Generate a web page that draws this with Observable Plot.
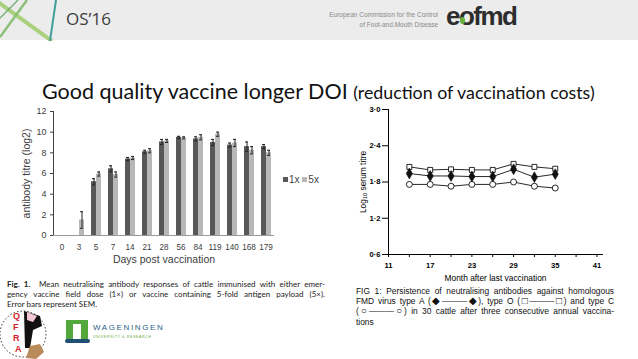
<!DOCTYPE html>
<html>
<head>
<meta charset="utf-8">
<script src="https://cdn.jsdelivr.net/npm/d3@7"></script>
<script src="https://cdn.jsdelivr.net/npm/@observablehq/plot@0.6"></script>
<style>
  html, body { margin: 0; padding: 0; background: #fff; }
  #page { position: relative; width: 638px; height: 359px; overflow: hidden; background: #fff; font-family: "Liberation Sans", Arial, sans-serif; }
  .abs { position: absolute; }
  #header { left: 0; top: 0; width: 638px; height: 40px; background: #ececec; }
  #title { left: 42px; top: 78px; font-family: Lato, "Open Sans", sans-serif; font-size: 21.5px; color: #111; white-space: nowrap; }
  #title span { font-size: 17.8px; }
  #leftcap { left: 7px; top: 279px; width: 318px; font-family: Lato, "Open Sans", sans-serif; font-size: 8px; color: #222; line-height: 10px; }
  #leftcap div, #rightcap div { text-align: justify; text-align-last: justify; white-space: nowrap; }
  #leftcap div.last, #rightcap div.last { text-align-last: left; }
  #rightcap { left: 356px; top: 286px; width: 258px; font-family: "Liberation Sans", Arial, sans-serif; font-size: 8.4px; color: #111; line-height: 10.2px; }
  #rightcap .s { font-size: 10px; line-height: 8px; }
  #legend { left: 283px; top: 174px; font-size: 10px; color: #444; white-space: nowrap; }
  #legend i { display: inline-block; width: 5px; height: 5px; margin-right: 1px; vertical-align: 1px; }
</style>
</head>
<body>
<div id="page">
  <div id="header" class="abs"></div>
  <svg class="abs" style="left:0;top:0" width="70" height="41">
    <line x1="-2" y1="2" x2="52" y2="41" stroke="#a9d07a" stroke-width="4"/>
    <line x1="0" y1="37" x2="27" y2="0" stroke="#8cc07a" stroke-width="2.5"/>
    <line x1="56" y1="0" x2="50" y2="41" stroke="#3f9f9a" stroke-width="2"/>
    <line x1="18" y1="0" x2="0" y2="18" stroke="#6aa86a" stroke-width="1.2"/>
  </svg>
  <div class="abs" style="left:66px;top:7px;font-family:'Open Sans',sans-serif;font-size:17px;color:#3d3d3d;">OS’16</div>
  <div class="abs" style="left:300px;top:10px;width:138px;text-align:right;font-size:6.5px;line-height:10px;color:#8a8a8a;white-space:nowrap;">European Commission for the Control<br>of Foot-and.Mouth Disease</div>
  <div class="abs" style="left:446px;top:1px;font-family:'Liberation Sans',Arial,sans-serif;font-weight:bold;font-size:26px;letter-spacing:-1.5px;color:#2d2d2d;">eofmd</div>
  <div class="abs" style="left:460px;top:17px;width:5px;height:7px;border-radius:50%;background:#6cb33f;"></div>

  <div id="title" class="abs">Good quality vaccine longer DOI <span>(reduction of vaccination costs)</span></div>

  <div id="chart1" class="abs" style="left:0;top:100px;"></div>
  <div id="legend" class="abs"><i style="background:#585858"></i>1x <i style="background:#b8b8b8"></i>5x</div>
  <div id="chart2" class="abs" style="left:320px;top:100px;"></div>

  <div id="leftcap" class="abs">
    <div><b>Fig. 1.</b>&nbsp; Mean neutralising antibody responses of cattle immunised with either emer-</div>
    <div>gency vaccine field dose (1×) or vaccine containing 5-fold antigen payload (5×).</div>
    <div class="last">Error bars represent SEM.</div>
  </div>
  <div id="rightcap" class="abs">
    <div>FIG 1: Persistence of neutralising antibodies against homologous</div>
    <div>FMD virus type A (<span class="s">◆</span>———<span class="s">◆</span>), type O (<span class="s">□</span>———<span class="s">□</span>) and type C</div>
    <div>(<span class="s">○</span>———<span class="s">○</span>) in 30 cattle after three consecutive annual vaccina-</div>
    <div class="last">tions</div>
  </div>

  <!-- bottom logos -->
  <svg class="abs" style="left:0;top:308px" width="60" height="51">
    <circle cx="23" cy="26" r="23" fill="none" stroke="#333" stroke-width="1" stroke-dasharray="1.5 2"/>
    <path d="M24 3 L40 8 L42 18 L33 22 L30 40 L25 40 Z" fill="#111"/>
    <path d="M27 4 L37 8 L33 14 L27 12 Z" fill="#f2c6d6"/>
    <path d="M26 50 L30 38 L40 36 L44 44 L36 51 Z" fill="#b98a5a"/>
    <text x="13" y="11" fill="#d2232a" font-size="9" font-weight="bold" font-family="Liberation Sans">Q</text>
    <text x="13" y="22" fill="#d2232a" font-size="9" font-weight="bold" font-family="Liberation Sans">F</text>
    <text x="13" y="33" fill="#d2232a" font-size="9" font-weight="bold" font-family="Liberation Sans">R</text>
    <text x="15" y="44" fill="#d2232a" font-size="9" font-weight="bold" font-family="Liberation Sans">A</text>
  </svg>
  <svg class="abs" style="left:63px;top:318px" width="100" height="30">
    <rect x="3" y="2" width="22" height="20" fill="#52a83a"/>
    <rect x="10" y="6" width="8" height="16" fill="#fff"/>
    <rect x="2" y="21" width="25" height="4" rx="2" fill="#1f4f72"/>
    <text x="30" y="12" fill="#1f5f86" font-size="8" letter-spacing="1.6" font-family="Liberation Sans">WAGENINGEN</text>
    <text x="30" y="20" fill="#6aaa3a" font-size="3.6" letter-spacing="0.6" font-family="Liberation Sans">UNIVERSITY &amp; RESEARCH</text>
  </svg>
</div>
<script>
// ---------- Left chart data ----------
const days = ["0", "3", "5", "7", "14", "21", "28", "56", "84", "119", "140", "168", "179"];
const doses = ["1x", "5x"];
const titre1x = [0, 0, 5.2, 6.45, 7.4, 8.1, 9.05, 9.5, 9.35, 9.0, 8.75, 8.6, 8.6];
const titre5x = [0, 1.5, 5.95, 5.9, 7.5, 8.2, 9.15, 9.45, 9.5, 9.8, 8.95, 8.25, 8.0];
const sem1x = [0, 0, 0.3, 0.3, 0.15, 0.15, 0.25, 0.1, 0.2, 0.3, 0.2, 0.45, 0.2];
const sem5x = [0, 0.8, 0.2, 0.25, 0.15, 0.2, 0.15, 0.1, 0.25, 0.2, 0.35, 0.35, 0.25];
const yTicksLeft = [0, 2, 4, 6, 8, 10, 12];

// ---------- Right chart data ----------
const months = [14, 17, 20, 23, 26, 29, 32, 35];
const typeA = [1.94, 1.90, 1.90, 1.89, 1.89, 2.01, 1.88, 1.93];
const typeO = [2.05, 2.00, 2.01, 2.00, 2.00, 2.10, 2.05, 2.02];
const typeC = [1.76, 1.76, 1.73, 1.76, 1.76, 1.80, 1.73, 1.70];
const monthTicks = [11, 14, 17, 20, 23, 26, 29, 32, 35, 38, 41];
const monthLabels = [11, 17, 23, 29, 35, 41];
const serumTicks = [0.6, 1.2, 1.8, 2.4, 3.0];

const rows = days.flatMap((d, i) => [
  {day: d, dose: "1x", v: titre1x[i], e: sem1x[i]},
  {day: d, dose: "5x", v: titre5x[i], e: sem5x[i]}
]);
const errRows = rows.filter(r => r.e > 0);

function sizeTitles(svg, px, weight) {
  svg.querySelectorAll("g[aria-label$='axis label']").forEach(g => {
    g.style.fontSize = px;
    if (weight) g.style.fontWeight = weight;
    g.querySelectorAll("text").forEach(t => { t.style.fontSize = px; if (weight) t.style.fontWeight = weight; });
  });
}

const chart1 = Plot.plot({
  width: 320, height: 170,
  marginLeft: 49, marginRight: 43, marginTop: 11, marginBottom: 35,
  style: {fontFamily: "'Liberation Sans', Arial, sans-serif", fontSize: "8.2px", color: "#404040", background: "transparent", overflow: "visible"},
  fx: {domain: days, padding: 0, label: "Days post vaccination", labelArrow: "none", labelAnchor: "center", labelOffset: 27, tickSize: 0, tickPadding: 9},
  x: {domain: doses, paddingInner: 0, paddingOuter: 0.62, axis: null},
  y: {domain: [0, 12], ticks: yTicksLeft, tickSize: 3, tickPadding: 4, line: true, label: "antibody titre (log2)", labelArrow: "none", labelAnchor: "center", labelOffset: 31},
  color: {domain: doses, range: ["#585858", "#b8b8b8"]},
  marks: [
    Plot.barY(rows, {fx: "day", x: "dose", y: "v", fill: "dose", inset: 0}),
    Plot.ruleX(errRows, {fx: "day", x: "dose", y1: r => r.v - r.e, y2: r => r.v + r.e, stroke: "#222", strokeWidth: 1}),
    Plot.tickY(errRows, {fx: "day", x: "dose", y: r => r.v + r.e, stroke: "#222", strokeWidth: 1, inset: 1}),
    Plot.tickY(errRows, {fx: "day", x: "dose", y: r => r.v - r.e, stroke: "#222", strokeWidth: 1, inset: 1}),
    Plot.ruleY([0], {stroke: "#9a9a9a"})
  ]
});
sizeTitles(chart1, "10.5px");
chart1.querySelectorAll("g[aria-label='y-axis tick label']").forEach(g => g.style.fontSize = "9px");
document.getElementById("chart1").appendChild(chart1);

const series = [
  {name: "A", vals: typeA},
  {name: "O", vals: typeO},
  {name: "C", vals: typeC}
];
const pts = series.flatMap(s => months.map((m, i) => ({type: s.name, m, v: s.vals[i]})));
const fmt = d => d.toFixed(1).replace(".", "·");

const chart2 = Plot.plot({
  width: 318, height: 185,
  marginLeft: 68, marginRight: 36, marginTop: 9, marginBottom: 31,
  style: {fontFamily: "'Liberation Sans', Arial, sans-serif", fontSize: "7.6px", fontWeight: "bold", color: "#000", background: "transparent", overflow: "visible"},
  x: {domain: [11, 41.8], ticks: monthTicks, tickFormat: d => monthLabels.includes(d) ? String(d) : "", tickSize: 3, tickPadding: 5, line: true, label: "Month after last vaccination", labelArrow: "none", labelAnchor: "center", labelOffset: 26},
  y: {domain: [0.6, 3.0], ticks: serumTicks, tickFormat: fmt, tickSize: 6, tickPadding: 2, line: true, label: "Log₁₀ serum titre", labelArrow: "none", labelAnchor: "center", labelOffset: 28},
  marks: [
    Plot.line(pts, {x: "m", y: "v", z: "type", stroke: "#111", strokeWidth: 0.9}),
    Plot.dot(pts.filter(d => d.type === "O"), {x: "m", y: "v", symbol: "square", r: 2.8, fill: "#fff", stroke: "#111", strokeWidth: 0.9}),
    Plot.dot(pts.filter(d => d.type === "C"), {x: "m", y: "v", symbol: "circle", r: 3, fill: "#fff", stroke: "#111", strokeWidth: 0.9}),
    Plot.dot(pts.filter(d => d.type === "A"), {x: "m", y: "v", symbol: "diamond", r: 3.3, fill: "#111", stroke: "#111", strokeWidth: 0.5})
  ]
});
sizeTitles(chart2, "8.4px", "normal");
document.getElementById("chart2").appendChild(chart2);
</script>
</body>
</html>
